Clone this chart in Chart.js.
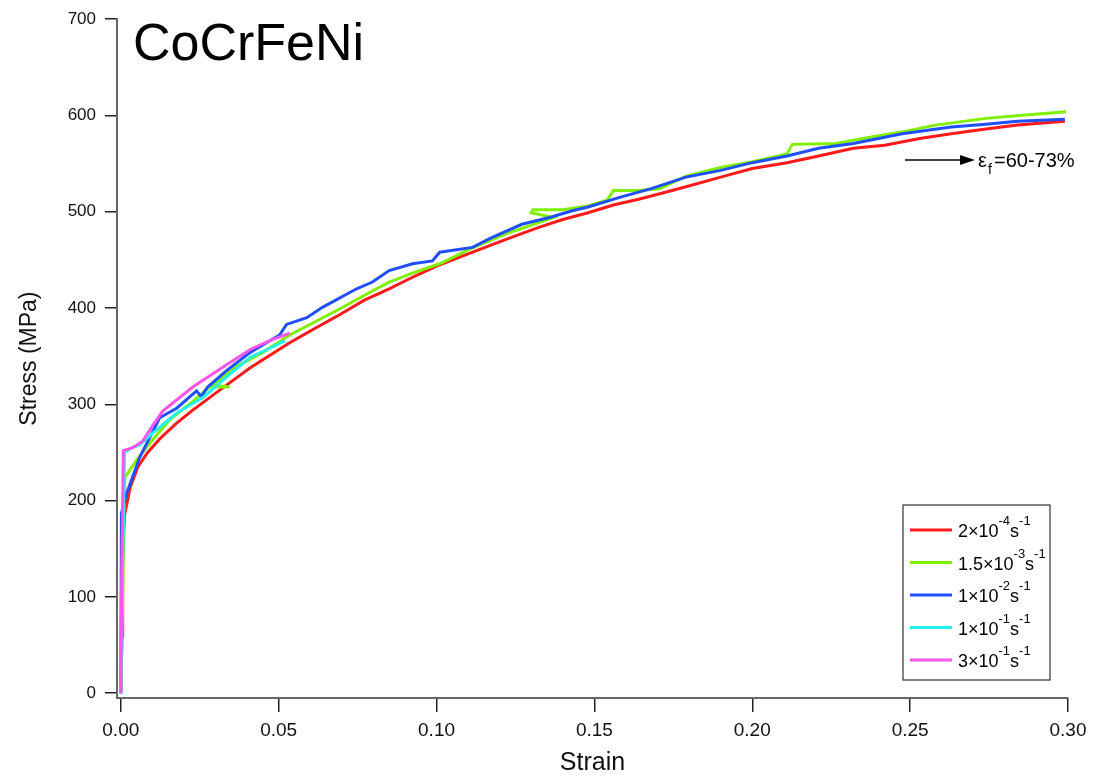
<!DOCTYPE html>
<html>
<head>
<meta charset="utf-8">
<script src="https://cdn.jsdelivr.net/npm/chart.js@4.4.1/dist/chart.umd.min.js"></script>
<style>
  html, body { margin: 0; padding: 0; background: #fff; }
  #wrap { width: 1094px; height: 778px; position: relative; }
</style>
</head>
<body>
<div id="wrap"><canvas id="chart"></canvas></div>
<script>
// strain / stress pairs
const RED_2E4 = [
  [0, 0], [0.0004, 60], [0.0006, 145], [0.0012, 185], [0.003, 214], [0.0054, 235],
  [0.0085, 250], [0.0123, 264], [0.0175, 280], [0.0228, 294], [0.031, 314], [0.041, 338],
  [0.0535, 364], [0.061, 378], [0.0693, 393], [0.077, 408], [0.085, 420], [0.093, 433],
  [0.101, 445], [0.109, 455], [0.117, 465], [0.125, 475], [0.1326, 484], [0.14, 492],
  [0.148, 499], [0.156, 507], [0.164, 513], [0.171, 519], [0.179, 526], [0.19, 536],
  [0.2, 545], [0.211, 551], [0.221, 558], [0.232, 566], [0.242, 569], [0.253, 576],
  [0.263, 581], [0.274, 586], [0.284, 590], [0.299, 594]
];
const GREEN_15E3 = [
  [0, 0], [0.0006, 100], [0.001, 190], [0.0013, 224], [0.005, 242], [0.009, 259],
  [0.0155, 284], [0.0228, 303], [0.028, 318], [0.0345, 318], [0.029, 320], [0.037, 340],
  [0.045, 354], [0.0535, 372], [0.0693, 399], [0.077, 413], [0.085, 427], [0.093, 437],
  [0.101, 446], [0.111, 462], [0.122, 477], [0.1326, 489], [0.137, 494], [0.13, 499],
  [0.1305, 502], [0.14, 502], [0.148, 506], [0.154, 512], [0.156, 522], [0.164, 522],
  [0.1706, 524], [0.179, 537], [0.19, 546], [0.2, 552], [0.211, 560], [0.2127, 570],
  [0.2266, 571], [0.235, 576], [0.2475, 583], [0.258, 590], [0.274, 597], [0.2845, 600],
  [0.2994, 604]
];
const BLUE_1E2 = [
  [0, 0], [0.0002, 187], [0.0019, 208], [0.006, 245], [0.0123, 286], [0.0177, 296],
  [0.024, 314], [0.0255, 308], [0.0275, 318], [0.0335, 335], [0.041, 354], [0.0503, 372],
  [0.0525, 383], [0.0589, 390], [0.064, 401], [0.0747, 420], [0.0797, 427], [0.085, 439],
  [0.0924, 446], [0.0987, 449], [0.101, 458], [0.1114, 463], [0.1168, 472], [0.127, 487],
  [0.1358, 494], [0.143, 501], [0.148, 505], [0.158, 515], [0.168, 524], [0.179, 536],
  [0.19, 543], [0.2, 551], [0.211, 558], [0.221, 566], [0.232, 571], [0.2475, 581],
  [0.263, 588], [0.274, 591], [0.284, 594], [0.299, 596]
];
const CYAN_1E1 = [
  [0, 0], [0.0005, 120], [0.0012, 250], [0.003, 254], [0.006, 258], [0.0101, 270],
  [0.0177, 291], [0.026, 307], [0.033, 327], [0.041, 349], [0.047, 358], [0.052, 366]
];
const MAGENTA_3E1 = [
  [0, 0], [0.0003, 120], [0.0008, 252], [0.0038, 255], [0.007, 262], [0.0101, 278],
  [0.0133, 293], [0.0228, 318], [0.0335, 341], [0.041, 357], [0.047, 366], [0.0535, 374]
];

const X_TICKS = [0, 0.05, 0.10, 0.15, 0.20, 0.25, 0.30];
const Y_TICKS = [0, 100, 200, 300, 400, 500, 600, 700];

const LEGEND = [
  { base: '2\u00d710', exp1: '-4', exp2: '-1', color: '#ff1a1a' },
  { base: '1.5\u00d710', exp1: '-3', exp2: '-1', color: '#80f000' },
  { base: '1\u00d710', exp1: '-2', exp2: '-1', color: '#1f4fff' },
  { base: '1\u00d710', exp1: '-1', exp2: '-1', color: '#22f2f2' },
  { base: '3\u00d710', exp1: '-1', exp2: '-1', color: '#ff55ee' }
];
const SERIES = [RED_2E4, GREEN_15E3, BLUE_1E2, CYAN_1E1, MAGENTA_3E1];

const FONT = 'Liberation Sans, Arial, sans-serif';

const decorations = {
  id: 'decorations',
  afterDraw(chart) {
    const ctx = chart.ctx;
    ctx.save();
    ctx.fillStyle = '#000';
    ctx.textBaseline = 'alphabetic';
    ctx.textAlign = 'left';

    // sample name
    ctx.font = `52px ${FONT}`;
    ctx.fillText('CoCrFeNi', 133, 60);

    // fracture strain note
    ctx.strokeStyle = '#000';
    ctx.lineWidth = 1.5;
    ctx.beginPath();
    ctx.moveTo(905, 160);
    ctx.lineTo(962, 160);
    ctx.stroke();
    ctx.beginPath();
    ctx.moveTo(975, 160);
    ctx.lineTo(960, 155);
    ctx.lineTo(960, 165);
    ctx.closePath();
    ctx.fill();
    ctx.font = `20px ${FONT}`;
    ctx.fillText('\u03b5', 978, 167);
    ctx.font = `14px ${FONT}`;
    ctx.fillText('f', 988, 174);
    ctx.font = `20px ${FONT}`;
    ctx.fillText('=60-73%', 994, 167);

    // legend box
    const bx = 903, by = 505, bw = 147, bh = 175;
    ctx.strokeStyle = '#333';
    ctx.lineWidth = 1.2;
    ctx.strokeRect(bx, by, bw, bh);
    LEGEND.forEach((item, i) => {
      const y = by + 25 + i * 32.5;
      ctx.strokeStyle = item.color;
      ctx.lineWidth = 3;
      ctx.beginPath();
      ctx.moveTo(910, y);
      ctx.lineTo(952, y);
      ctx.stroke();
      let x = 958;
      ctx.font = `18px ${FONT}`;
      ctx.fillStyle = '#000';
      ctx.fillText(item.base, x, y + 7);
      x += ctx.measureText(item.base).width;
      ctx.font = `13px ${FONT}`;
      ctx.fillText(item.exp1, x, y - 5);
      x += ctx.measureText(item.exp1).width;
      ctx.font = `18px ${FONT}`;
      ctx.fillText('s', x, y + 7);
      x += ctx.measureText('s').width;
      ctx.font = `13px ${FONT}`;
      ctx.fillText(item.exp2, x, y - 5);
    });
    ctx.restore();
  }
};

new Chart(document.getElementById('chart'), {
  type: 'scatter',
  data: {
    datasets: SERIES.map((pts, i) => ({
      label: LEGEND[i].base,
      data: pts.map(([x, y]) => ({ x, y })),
      showLine: true,
      borderColor: LEGEND[i].color,
      backgroundColor: LEGEND[i].color,
      borderWidth: 3,
      pointRadius: 0,
      tension: 0,
      order: SERIES.length - i
    }))
  },
  options: {
    responsive: true,
    maintainAspectRatio: false,
    animation: false,
    layout: { padding: { top: 18, right: 26, left: 0, bottom: 0 } },
    plugins: {
      legend: { display: false },
      tooltip: { enabled: false }
    },
    scales: {
      x: {
        type: 'linear',
        min: -0.0012,
        max: 0.3,
        afterBuildTicks: s => { s.ticks = X_TICKS.map(v => ({ value: v })); },
        afterFit: s => { s.height = 80; },
        ticks: {
          callback: v => v.toFixed(2),
          color: '#111',
          font: { family: FONT, size: 19 },
          padding: 7,
          maxRotation: 0
        },
        grid: { drawOnChartArea: false, color: '#222', tickLength: 14, lineWidth: 1.5 },
        border: { display: true, color: '#666', width: 2 },
        title: {
          display: true,
          text: 'Strain',
          color: '#111',
          font: { family: FONT, size: 25 },
          padding: { top: 0, bottom: 0 }
        }
      },
      y: {
        type: 'linear',
        min: -5,
        max: 700,
        afterBuildTicks: s => { s.ticks = Y_TICKS.map(v => ({ value: v })); },
        afterFit: s => { s.width = 117; },
        ticks: {
          color: '#111',
          font: { family: FONT, size: 17 },
          padding: 9
        },
        grid: { drawOnChartArea: false, color: '#222', tickLength: 12, lineWidth: 1.5 },
        border: { display: true, color: '#666', width: 2 },
        title: {
          display: true,
          text: 'Stress (MPa)',
          color: '#111',
          font: { family: FONT, size: 23 },
          padding: { top: 16, bottom: 0 }
        }
      }
    }
  },
  plugins: [decorations]
});
</script>
</body>
</html>
